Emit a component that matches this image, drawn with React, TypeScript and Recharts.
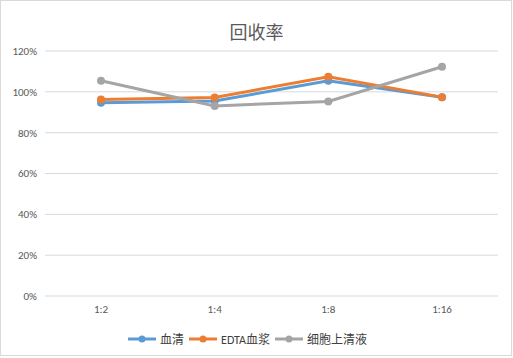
import React from 'react';
import { LineChart, Line, XAxis, YAxis, CartesianGrid, Legend } from 'recharts';

const categories = ['1:2', '1:4', '1:8', '1:16'];
const serum = [94.6, 95.5, 105.4, 97.3];
const edtaPlasma = [96.3, 97.2, 107.4, 97.4];
const supernatant = [105.4, 93.1, 95.3, 112.3];
const yTicks = [0, 20, 40, 60, 80, 100, 120];

const seriesList = [
  { key: 'serum', name: '血清', color: '#5B9BD5' },
  { key: 'edta', name: 'EDTA血浆', color: '#ED7D31' },
  { key: 'sup', name: '细胞上清液', color: '#A5A5A5' },
];

const data = categories.map((c, i) => ({
  cat: c,
  serum: serum[i],
  edta: edtaPlasma[i],
  sup: supernatant[i],
}));

const font = "Carlito, 'Liberation Sans', 'Noto Sans CJK SC', sans-serif";

function LegendContent() {
  return (
    <div style={{ display: 'flex', justifyContent: 'center', alignItems: 'center', fontFamily: font, fontSize: 12, color: '#404040' }}>
      {seriesList.map(s => (
        <div key={s.key} style={{ display: 'flex', alignItems: 'center', marginRight: 4 }}>
          <svg width={30} height={10} style={{ marginRight: 3 }}>
            <line x1={1} y1={5} x2={29} y2={5} stroke={s.color} strokeWidth={3} />
            <circle cx={15} cy={5} r={3.5} fill={s.color} />
          </svg>
          <span>{s.name}</span>
        </div>
      ))}
    </div>
  );
}

export default function App() {
  return (
    <div style={{ position: 'absolute', left: 0, top: 0, width: 513, height: 358, background: '#fff' }}>
      <div style={{ position: 'absolute', left: 0, top: 0, width: 512, height: 356, border: '1px solid #d9d9d9', boxSizing: 'border-box' }} />
      <div style={{ position: 'absolute', left: 0, top: 18, width: 513, textAlign: 'center', fontFamily: "'Noto Sans CJK SC', sans-serif", fontSize: 18, color: '#595959' }}>
        回收率
      </div>
      <LineChart width={513} height={358} data={data} margin={{ top: 51, right: 15, left: 0, bottom: 8 }}>
        <CartesianGrid vertical={false} stroke="#d9d9d9" />
        <XAxis
          dataKey="cat"
          axisLine={false}
          tickLine={false}
          padding={{ left: 56, right: 56 }}
          tick={{ fill: '#595959', fontSize: 11, fontFamily: font }}
          tickMargin={3}
          height={34}
        />
        <YAxis
          domain={[0, 120]}
          ticks={yTicks}
          axisLine={false}
          tickLine={false}
          width={45}
          tickMargin={2}
          tickFormatter={(v: number) => `${v}%`}
          tick={{ fill: '#595959', fontSize: 11, fontFamily: font }}
        />
        <Legend content={<LegendContent />} verticalAlign="bottom" height={20} />
        {seriesList.map(s => (
          <Line
            key={s.key}
            dataKey={s.key}
            name={s.name}
            stroke={s.color}
            strokeWidth={3}
            dot={{ r: 4, fill: s.color, stroke: s.color, strokeWidth: 0 }}
            isAnimationActive={false}
          />
        ))}
      </LineChart>
    </div>
  );
}
